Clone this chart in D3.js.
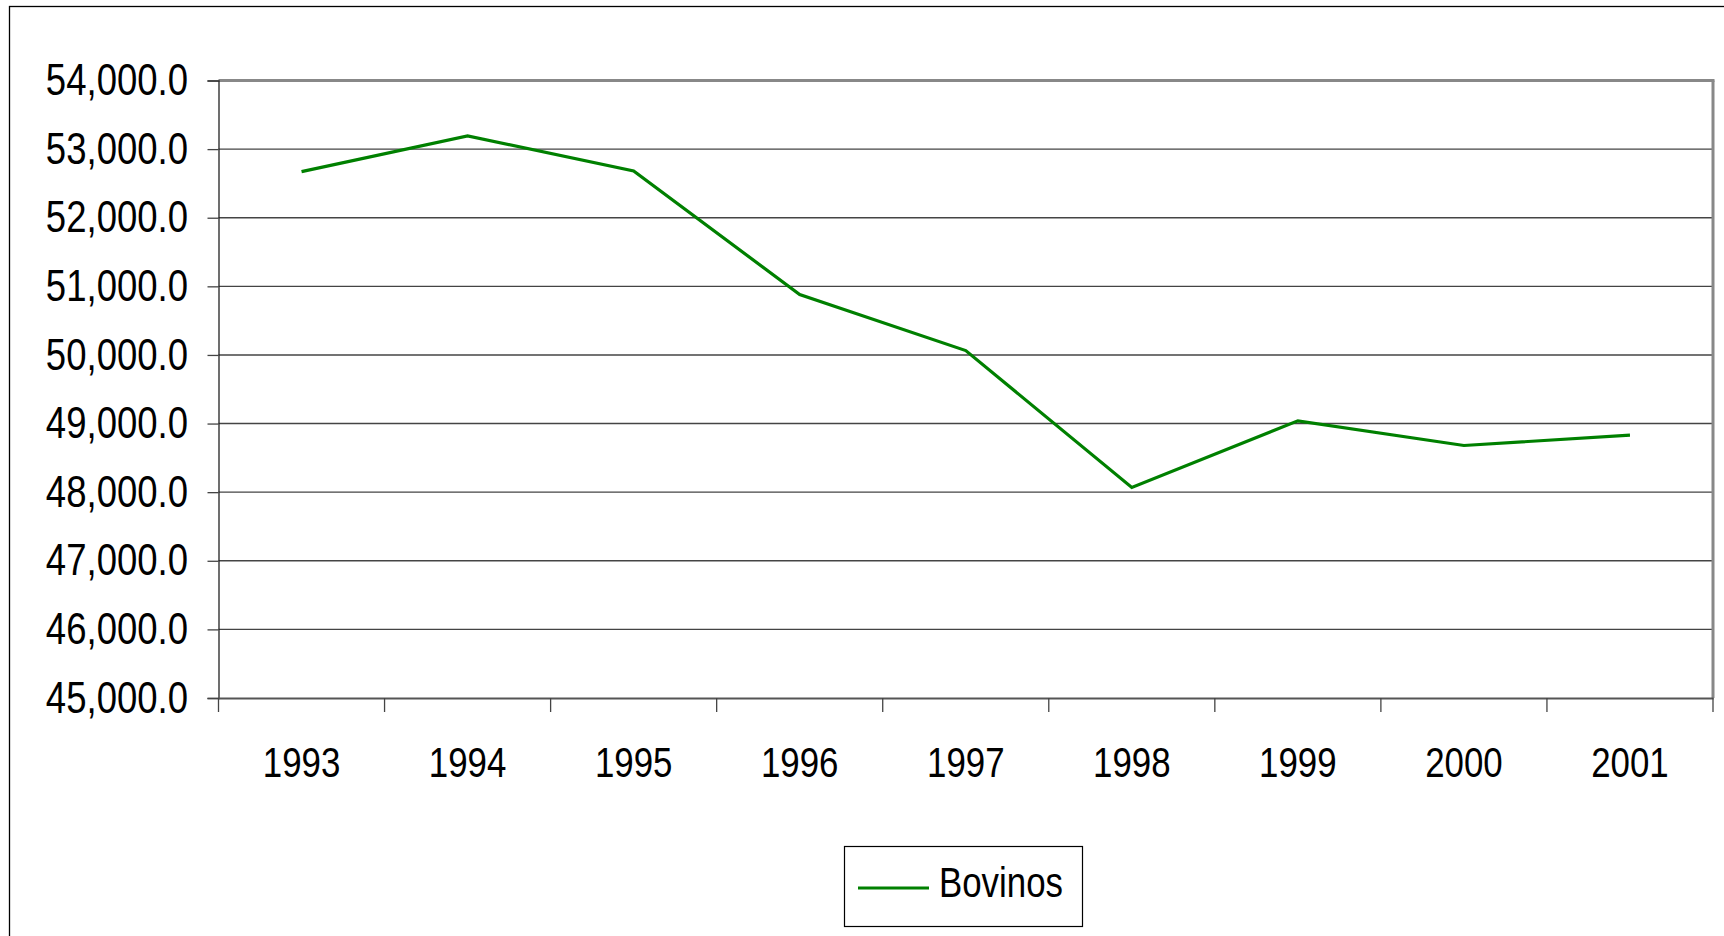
<!DOCTYPE html>
<html>
<head>
<meta charset="utf-8">
<script src="https://d3js.org/d3.v7.min.js"></script>
<style>
  body { margin: 0; background: #fff; }
  text { font-family: "Liberation Sans", Arial, sans-serif; }
</style>
</head>
<body>
<div id="my_dataviz"></div>
<script>
var years  = ["1993", "1994", "1995", "1996", "1997", "1998", "1999", "2000", "2001"];
var bovinos = [52672, 53192, 52682, 50880, 50064, 48068, 49040, 48680, 48831];
var yTicks = [45000, 46000, 47000, 48000, 49000, 50000, 51000, 52000, 53000, 54000];
var seriesName = "Bovinos";

var width  = 1724;
var height = 936;
var margin = {left: 218.5, top: 80.5, right: 11, bottom: 238};
var narrow = 0.83; // no narrow face installed, squeeze the text instead

var svg = d3.select("#my_dataviz")
  .append("svg")
    .attr("width", width)
    .attr("height", height);

// outer chart frame (runs off right and bottom)
svg.append("rect")
  .attr("x", 9.5).attr("y", 6.5)
  .attr("width", width + 20).attr("height", height + 20)
  .style("fill", "none").style("stroke", "#000").style("stroke-width", 1.3);

var x = d3.scaleBand()
  .domain(years)
  .range([margin.left, width - margin.right]);

var y = d3.scaleLinear()
  .domain([45000, 54000])
  .range([height - margin.bottom, margin.top]);

var fmt = d3.format(",.1f");

// gridlines
svg.selectAll("line.grid")
  .data(yTicks.slice(1, -1))
  .enter()
  .append("line")
    .attr("class", "grid")
    .attr("x1", margin.left).attr("x2", width - margin.right)
    .attr("y1", function(d){ return y(d) }).attr("y2", function(d){ return y(d) })
    .style("stroke", "#444").style("stroke-width", 1.4);

// plot frame: gray top + right
svg.append("line")
  .attr("x1", margin.left).attr("x2", width - margin.right + 1.5)
  .attr("y1", y(54000)).attr("y2", y(54000))
  .style("stroke", "#888").style("stroke-width", 3);
svg.append("line")
  .attr("x1", width - margin.right).attr("x2", width - margin.right)
  .attr("y1", y(54000)).attr("y2", y(45000))
  .style("stroke", "#888").style("stroke-width", 3);

// y axis
var yAxis = svg.append("g")
  .attr("transform", "translate(" + margin.left + ",0)")
  .call(d3.axisLeft(y).tickValues(yTicks).tickFormat(fmt).tickSize(11));
yAxis.select(".domain").style("stroke", "#222").style("stroke-width", 1.3);
yAxis.selectAll(".tick line").style("stroke", "#444").style("stroke-width", 1.3);
yAxis.selectAll("text")
  .attr("x", -30.5 / narrow)
  .attr("transform", "scale(" + narrow + ",1)")
  .style("font-size", "44px")
  .style("fill", "#000");

// x axis
var xAxis = svg.append("g")
  .attr("transform", "translate(0," + y(45000) + ")")
  .call(d3.axisBottom(x).tickSize(0).tickPadding(49));
xAxis.select(".domain").style("stroke", "#555").style("stroke-width", 2.2);
xAxis.selectAll("text")
  .attr("transform", "scale(" + narrow + ",1)")
  .style("font-size", "42px")
  .style("fill", "#000");

// x tick marks at category boundaries
var bounds = years.map(function(d){ return x(d) }).concat([x(years[years.length - 1]) + x.bandwidth()]);
svg.selectAll("line.xtick")
  .data(bounds)
  .enter()
  .append("line")
    .attr("class", "xtick")
    .attr("x1", function(d){ return d }).attr("x2", function(d){ return d })
    .attr("y1", y(45000)).attr("y2", y(45000) + 14)
    .style("stroke", "#444").style("stroke-width", 1.3);

// the series
var line = d3.line()
  .x(function(d, i){ return x(years[i]) + x.bandwidth() / 2 })
  .y(function(d){ return y(d) });

svg.append("path")
  .datum(bovinos)
  .attr("d", line)
  .style("fill", "none")
  .style("stroke", "#008000")
  .style("stroke-width", 3.2);

// legend
var lg = svg.append("g").attr("transform", "translate(844,846)");
lg.append("rect")
  .attr("x", 0.5).attr("y", 0.5)
  .attr("width", 238).attr("height", 80)
  .style("fill", "#fff").style("stroke", "#000").style("stroke-width", 1.2);
lg.append("line")
  .attr("x1", 14).attr("x2", 85)
  .attr("y1", 42).attr("y2", 42)
  .style("stroke", "#008000").style("stroke-width", 3.2);
lg.append("text")
  .attr("x", 95 / narrow).attr("y", 51)
  .attr("transform", "scale(" + narrow + ",1)")
  .style("font-size", "42px")
  .style("fill", "#000")
  .text(seriesName);
</script>
</body>
</html>
